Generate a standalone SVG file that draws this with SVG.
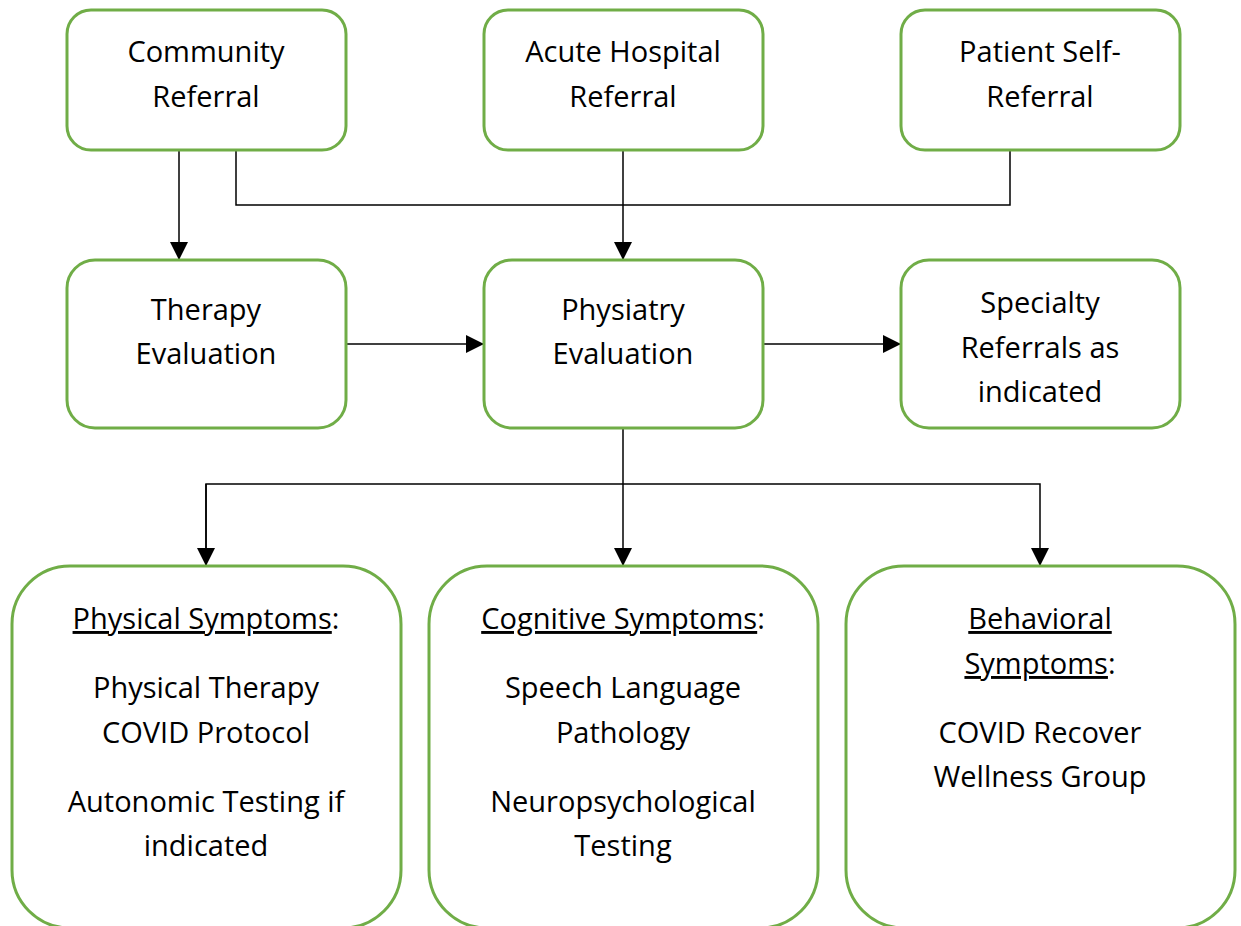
<svg xmlns="http://www.w3.org/2000/svg" width="1241" height="926" viewBox="0 0 1241 926">
<style>
.box{fill:#fff;stroke:#70AD47;stroke-width:3}
.t{font-family:"Open Sans","Noto Sans",sans-serif;font-size:29px;fill:#000;text-anchor:middle}
.u{text-decoration:underline}
.c{fill:none;stroke:#000;stroke-width:1.5}
</style>
<defs>
<marker id="a" viewBox="0 0 18 18" refX="18" refY="9" markerWidth="18" markerHeight="18" markerUnits="userSpaceOnUse" orient="auto">
<path d="M0,0 L18,9 L0,18 Z" fill="#000"/>
</marker>
</defs>
<rect width="1241" height="926" fill="#fff"/>
<g id="connectors">
<path class="c" d="M179,150 V260" marker-end="url(#a)"/>
<path class="c" d="M236,150 V205 H1010 V150"/>
<path class="c" d="M623,150 V260" marker-end="url(#a)"/>
<path class="c" d="M346,344 H484" marker-end="url(#a)"/>
<path class="c" d="M763,344 H901" marker-end="url(#a)"/>
<path class="c" d="M623,428 V566" marker-end="url(#a)"/>
<path class="c" d="M206,566 V484 H1040 V566" marker-end="url(#a)"/>
<path class="c" d="M206,484 V566" marker-end="url(#a)"/>
</g>
<g id="community">
<rect class="box" x="67" y="10" width="279" height="140" rx="24"/>
<text class="t" x="206" y="62">Community</text>
<text class="t" x="206" y="107">Referral</text>
</g>
<g id="acute">
<rect class="box" x="484" y="10" width="279" height="140" rx="24"/>
<text class="t" x="623" y="62">Acute Hospital</text>
<text class="t" x="623" y="107">Referral</text>
</g>
<g id="self">
<rect class="box" x="901" y="10" width="279" height="140" rx="24"/>
<text class="t" x="1040" y="62">Patient Self-</text>
<text class="t" x="1040" y="107">Referral</text>
</g>
<g id="therapy">
<rect class="box" x="67" y="260" width="279" height="168" rx="28"/>
<text class="t" x="206" y="320">Therapy</text>
<text class="t" x="206" y="364">Evaluation</text>
</g>
<g id="physiatry">
<rect class="box" x="484" y="260" width="279" height="168" rx="28"/>
<text class="t" x="623" y="320">Physiatry</text>
<text class="t" x="623" y="364">Evaluation</text>
</g>
<g id="specialty">
<rect class="box" x="901" y="260" width="279" height="168" rx="28"/>
<text class="t" x="1040" y="313">Specialty</text>
<text class="t" x="1040" y="358">Referrals as</text>
<text class="t" x="1040" y="402">indicated</text>
</g>
<g id="physical">
<rect class="box" x="12" y="566" width="389" height="362" rx="58"/>
<text class="t" x="206" y="629"><tspan class="u">Physical Symptoms</tspan>:</text>
<text class="t" x="206" y="698">Physical Therapy</text>
<text class="t" x="206" y="743">COVID Protocol</text>
<text class="t" x="206" y="812">Autonomic Testing if</text>
<text class="t" x="206" y="856">indicated</text>
</g>
<g id="cognitive">
<rect class="box" x="429" y="566" width="389" height="362" rx="58"/>
<text class="t" x="623" y="629"><tspan class="u">Cognitive Symptoms</tspan>:</text>
<text class="t" x="623" y="698">Speech Language</text>
<text class="t" x="623" y="743">Pathology</text>
<text class="t" x="623" y="812">Neuropsychological</text>
<text class="t" x="623" y="856">Testing</text>
</g>
<g id="behavioral">
<rect class="box" x="846" y="566" width="389" height="362" rx="58"/>
<text class="t" x="1040" y="629"><tspan class="u">Behavioral</tspan></text>
<text class="t" x="1040" y="674"><tspan class="u">Symptoms</tspan>:</text>
<text class="t" x="1040" y="743">COVID Recover</text>
<text class="t" x="1040" y="787">Wellness Group</text>
</g>
</svg>
